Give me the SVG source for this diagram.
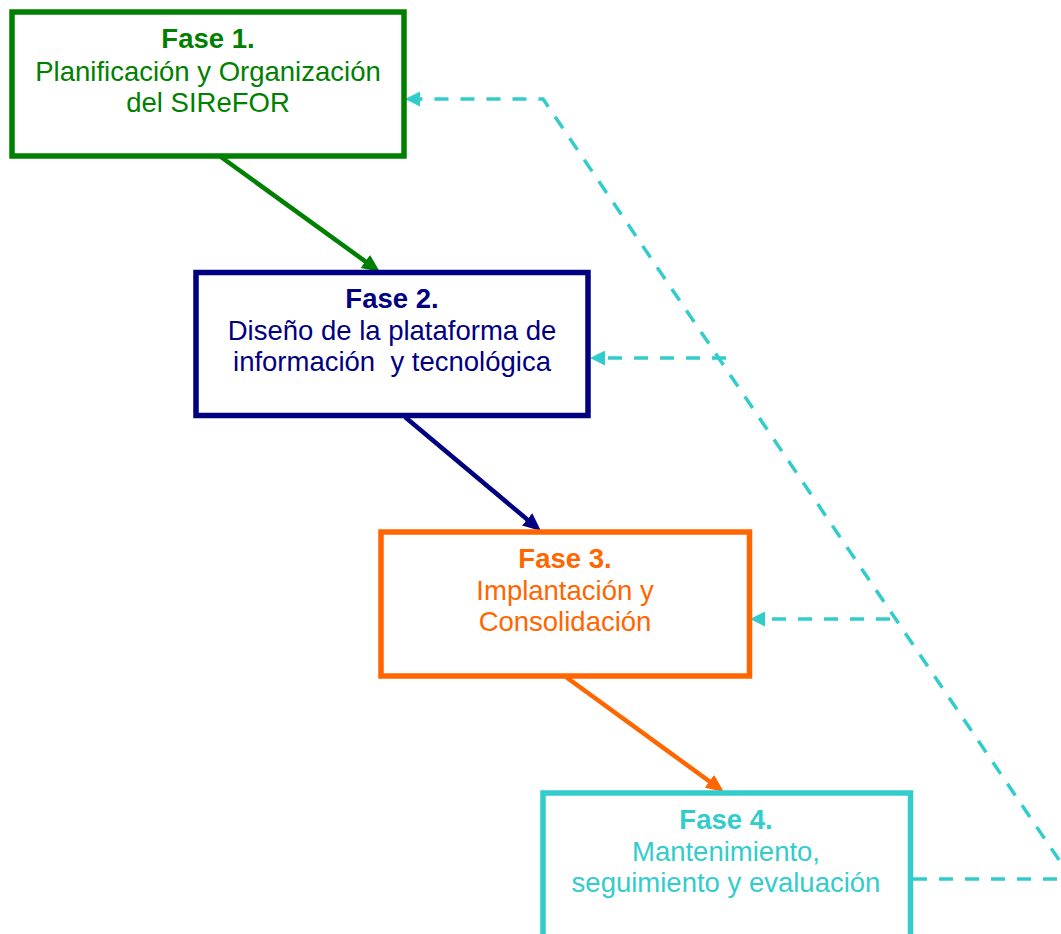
<svg xmlns="http://www.w3.org/2000/svg" width="1061" height="934" viewBox="0 0 1061 934">
<style>
.box{fill:#fff;stroke-width:5.5}
.t{font-family:"Liberation Sans",Arial,sans-serif;font-size:27.5px;text-anchor:middle}
.b{font-weight:bold}
.solid{fill:none;stroke-width:4.5}
.dash{fill:none;stroke:#33CCCC;stroke-width:3.5;stroke-dasharray:14 12}
</style>
<defs>
<marker id="ag" markerUnits="userSpaceOnUse" markerWidth="18" markerHeight="16" refX="2" refY="8" orient="auto"><path d="M0,0 L18,8 L0,16 z" fill="#008000"/></marker>
<marker id="an" markerUnits="userSpaceOnUse" markerWidth="18" markerHeight="16" refX="2" refY="8" orient="auto"><path d="M0,0 L18,8 L0,16 z" fill="#000080"/></marker>
<marker id="ao" markerUnits="userSpaceOnUse" markerWidth="18" markerHeight="16" refX="2" refY="8" orient="auto"><path d="M0,0 L18,8 L0,16 z" fill="#FF6600"/></marker>
<marker id="ac" markerUnits="userSpaceOnUse" markerWidth="15" markerHeight="15" refX="2" refY="7.5" orient="auto"><path d="M0,0 L15,7.5 L0,15 z" fill="#33CCCC"/></marker>
</defs>
<rect width="1061" height="934" fill="#fff"/>
<g id="connectors">
<line class="solid" stroke="#008000" x1="221" y1="157" x2="367" y2="262.6" marker-end="url(#ag)"/>
<line class="solid" stroke="#000080" x1="405" y1="417" x2="528.7" y2="520.7" marker-end="url(#an)"/>
<line class="solid" stroke="#FF6600" x1="566" y1="677" x2="711" y2="782.5" marker-end="url(#ao)"/>
<path class="dash" d="M913,879 L1072,879 L543,99 L418,99" marker-end="url(#ac)"/>
<path class="dash" d="M726,358 L603,358" marker-end="url(#ac)"/>
<path class="dash" d="M890,619 L763,619" marker-end="url(#ac)"/>
</g>
<g id="fase1">
<rect class="box" stroke="#008000" x="12" y="12" width="392" height="144"/>
<text class="t b" fill="#008000" x="208" y="48">Fase 1.</text>
<text class="t" fill="#008000" x="208" y="80.5">Planificación y Organización</text>
<text class="t" fill="#008000" x="208" y="111.5">del SIReFOR</text>
</g>
<g id="fase2">
<rect class="box" stroke="#000080" x="196" y="272.5" width="392" height="143"/>
<text class="t b" fill="#000080" x="392" y="308">Fase 2.</text>
<text class="t" fill="#000080" x="392" y="340">Diseño de la plataforma de</text>
<text class="t" fill="#000080" x="392" y="371" xml:space="preserve">información  y tecnológica</text>
</g>
<g id="fase3">
<rect class="box" stroke="#FF6600" x="381" y="532" width="368.5" height="144"/>
<text class="t b" fill="#FF6600" x="565" y="568">Fase 3.</text>
<text class="t" fill="#FF6600" x="565" y="600">Implantación y</text>
<text class="t" fill="#FF6600" x="565" y="631">Consolidación</text>
</g>
<g id="fase4">
<rect class="box" stroke="#33CCCC" x="543" y="793" width="367.5" height="170"/>
<text class="t b" fill="#33CCCC" x="726" y="829">Fase 4.</text>
<text class="t" fill="#33CCCC" x="726" y="861">Mantenimiento,</text>
<text class="t" fill="#33CCCC" x="726" y="892">seguimiento y evaluación</text>
</g>
</svg>
